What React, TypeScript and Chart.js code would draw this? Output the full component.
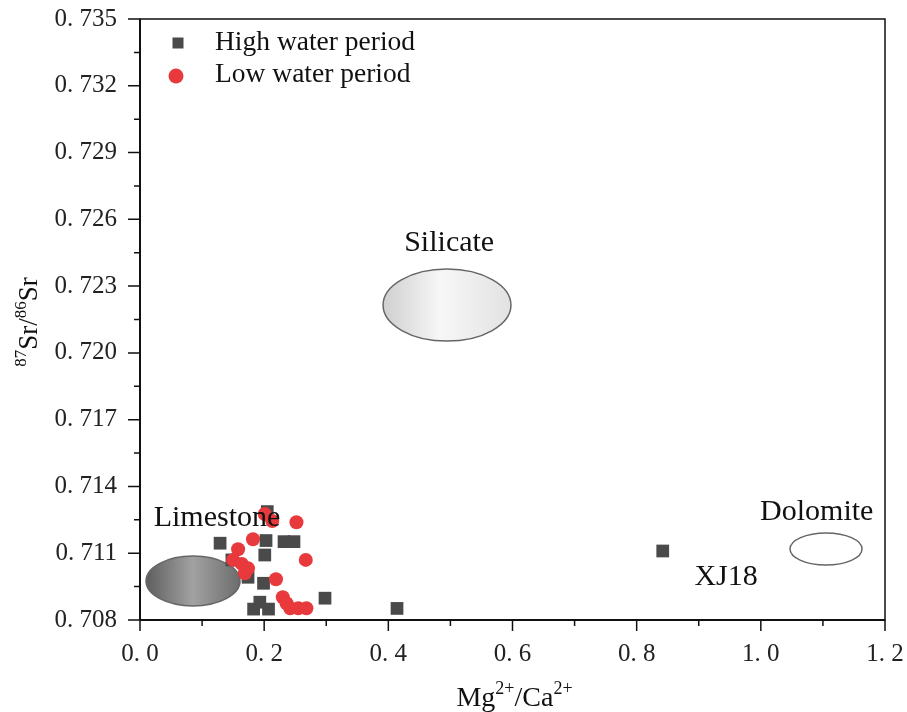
import React, { useEffect, useRef } from "react";
import { Chart, registerables } from "chart.js";
Chart.register(...registerables);

// ---- data ----
const highLabel = "High water period";
const lowLabel = "Low water period";
const highX = [0.129, 0.205, 0.203, 0.232, 0.248, 0.201, 0.148, 0.174, 0.199, 0.183, 0.193, 0.207, 0.298, 0.414, 0.842];
const highY = [0.71145, 0.71287, 0.71157, 0.71152, 0.71152, 0.71092, 0.7107, 0.70992, 0.70965, 0.70849, 0.7088, 0.70849, 0.70898, 0.70852, 0.7111];
const lowX = [0.201, 0.213, 0.252, 0.182, 0.158, 0.15, 0.164, 0.174, 0.169, 0.267, 0.219, 0.23, 0.236, 0.242, 0.255, 0.268];
const lowY = [0.71276, 0.71245, 0.71239, 0.71163, 0.71118, 0.7107, 0.71052, 0.71032, 0.7101, 0.7107, 0.70983, 0.70902, 0.70875, 0.70853, 0.70853, 0.70853];

const regionNames = ["Limestone", "Silicate", "Dolomite"];
const regionCX = [0.0854, 0.4945, 1.105];
const regionCY = [0.70975, 0.72215, 0.71119];
const regionRX = [0.0757, 0.103, 0.058];
const regionRY = [0.00112, 0.00162, 0.00072];

const noteTexts = ["Limestone", "Silicate", "Dolomite", "XJ18"];
const noteX = [0.124, 0.498, 1.09, 0.944];
const noteY = [0.71258, 0.72494, 0.71285, 0.70993];

const xMin = 0, xMax = 1.2, xStep = 0.2;
const yMin = 0.708, yMax = 0.735, yStep = 0.003;

const SERIF = "'Liberation Serif', 'Times New Roman', serif";
const HIGH_COLOR = "#4a4a4a";
const LOW_COLOR = "#e8393d";

function drawSupText(ctx: CanvasRenderingContext2D, parts: [string, boolean][], cx: number, baseY: number, size: number, supSize: number) {
  let total = 0;
  for (const [t, sup] of parts) {
    ctx.font = `${sup ? supSize : size}px ${SERIF}`;
    total += ctx.measureText(t).width;
  }
  let x = cx - total / 2;
  ctx.textAlign = "left";
  ctx.textBaseline = "alphabetic";
  for (const [t, sup] of parts) {
    ctx.font = `${sup ? supSize : size}px ${SERIF}`;
    ctx.fillText(t, x, sup ? baseY - size * 0.42 : baseY);
    x += ctx.measureText(t).width;
  }
}

const regionPlugin = {
  id: "regions",
  beforeDatasetsDraw(chart: any) {
    const { ctx, scales } = chart;
    const x = scales.x, y = scales.y;
    regionNames.forEach((_n, i) => {
      const cx = x.getPixelForValue(regionCX[i]);
      const cy = y.getPixelForValue(regionCY[i]);
      const rx = Math.abs(x.getPixelForValue(regionCX[i] + regionRX[i]) - cx);
      const ry = Math.abs(y.getPixelForValue(regionCY[i] + regionRY[i]) - cy);
      ctx.save();
      let fill: any = "#ffffff";
      if (i === 0) {
        const g = ctx.createLinearGradient(cx - rx, 0, cx + rx, 0);
        g.addColorStop(0, "#5e5e5e");
        g.addColorStop(0.5, "#a2a2a2");
        g.addColorStop(1, "#6c6c6c");
        fill = g;
      } else if (i === 1) {
        const g = ctx.createLinearGradient(cx - rx, 0, cx + rx, 0);
        g.addColorStop(0, "#cfcfcf");
        g.addColorStop(0.45, "#f7f7f7");
        g.addColorStop(1, "#e2e2e2");
        fill = g;
      }
      ctx.beginPath();
      ctx.ellipse(cx, cy, rx, ry, 0, 0, Math.PI * 2);
      ctx.fillStyle = fill;
      ctx.fill();
      ctx.lineWidth = 1.5;
      ctx.strokeStyle = "#666666";
      ctx.stroke();
      ctx.restore();
    });
  },
  afterDatasetsDraw(chart: any) {
    const { ctx, scales, chartArea } = chart;
    const x = scales.x, y = scales.y;
    ctx.save();
    // notes
    ctx.fillStyle = "#111";
    ctx.font = `30px ${SERIF}`;
    ctx.textAlign = "center";
    ctx.textBaseline = "middle";
    noteTexts.forEach((t, i) => {
      ctx.fillText(t, x.getPixelForValue(noteX[i]), y.getPixelForValue(noteY[i]));
    });
    // frame
    ctx.strokeStyle = "#111";
    ctx.lineWidth = 1.5;
    ctx.strokeRect(chartArea.left, chartArea.top, chartArea.right - chartArea.left, chartArea.bottom - chartArea.top);
    ctx.lineWidth = 2;
    ctx.beginPath();
    ctx.moveTo(chartArea.left, chartArea.top);
    ctx.lineTo(chartArea.left, chartArea.bottom);
    ctx.lineTo(chartArea.right, chartArea.bottom);
    ctx.stroke();
    // ticks
    ctx.lineWidth = 1.5;
    ctx.beginPath();
    const nx = Math.round((xMax - xMin) / (xStep / 2));
    for (let k = 0; k <= nx; k++) {
      const v = xMin + (k * xStep) / 2;
      const px = x.getPixelForValue(v);
      const len = k % 2 === 0 ? 11 : 6;
      ctx.moveTo(px, chartArea.bottom);
      ctx.lineTo(px, chartArea.bottom + len);
    }
    const ny = Math.round((yMax - yMin) / (yStep / 2));
    for (let k = 0; k <= ny; k++) {
      const v = yMin + (k * yStep) / 2;
      const py = y.getPixelForValue(v);
      const len = k % 2 === 0 ? 12 : 6;
      ctx.moveTo(chartArea.left, py);
      ctx.lineTo(chartArea.left - len, py);
    }
    ctx.stroke();
    // legend
    const lx = 178;
    const rows: [string, string, string][] = [
      [highLabel, "rect", HIGH_COLOR],
      [lowLabel, "circle", LOW_COLOR],
    ];
    rows.forEach(([label, shape, color], i) => {
      const ly = 43 + i * 32;
      ctx.fillStyle = color;
      if (shape === "rect") {
        ctx.fillRect(lx - 5.5, ly - 5.5, 11, 11);
      } else {
        ctx.beginPath();
        ctx.arc(lx - 2, ly + 1, 7.5, 0, Math.PI * 2);
        ctx.fill();
      }
      ctx.fillStyle = "#111";
      ctx.font = `27.5px ${SERIF}`;
      ctx.textAlign = "left";
      ctx.textBaseline = "middle";
      ctx.fillText(label, 215, ly);
    });
    // axis titles
    ctx.fillStyle = "#111";
    drawSupText(ctx, [["Mg", false], ["2+", true], ["/Ca", false], ["2+", true]], (chartArea.left + chartArea.right) / 2 + 2, 706, 28, 18);
    ctx.save();
    ctx.translate(37, 322);
    ctx.rotate(-Math.PI / 2);
    drawSupText(ctx, [["87", true], ["Sr/", false], ["86", true], ["Sr", false]], 0, 0, 27, 17);
    ctx.restore();
    ctx.restore();
  },
};

function zeroPad(s: any) {
  s.paddingTop = 0;
  s.paddingBottom = 0;
  s.paddingLeft = 0;
  s.paddingRight = 0;
}

export default function App() {
  const ref = useRef<HTMLCanvasElement | null>(null);
  useEffect(() => {
    if (!ref.current) return;
    const chart = new Chart(ref.current, {
      type: "scatter",
      data: {
        datasets: [
          {
            label: lowLabel,
            data: lowX.map((v, i) => ({ x: v, y: lowY[i] })),
            pointStyle: "circle",
            pointRadius: 7,
            backgroundColor: LOW_COLOR,
            borderColor: LOW_COLOR,
            borderWidth: 0,
          },
          {
            label: highLabel,
            data: highX.map((v, i) => ({ x: v, y: highY[i] })),
            pointStyle: "rect",
            pointRadius: 9,
            backgroundColor: HIGH_COLOR,
            borderColor: HIGH_COLOR,
            borderWidth: 0,
          },
        ],
      },
      options: {
        responsive: false,
        animation: false,
        layout: { padding: { top: 19, right: 22, left: 0, bottom: 0 } },
        plugins: { legend: { display: false }, tooltip: { enabled: false } },
        scales: {
          x: {
            type: "linear",
            min: xMin,
            max: xMax,
            afterFit: (s: any) => { s.height = 92; zeroPad(s); },
            grid: { display: false, drawTicks: false },
            border: { display: false },
            ticks: {
              stepSize: xStep,
              padding: 19,
              color: "#222",
              font: { family: SERIF, size: 25 },
              maxRotation: 0,
              autoSkip: false,
              callback: (v: any) => Number(v).toFixed(1).replace(".", ". "),
            },
          },
          y: {
            type: "linear",
            min: yMin,
            max: yMax,
            afterFit: (s: any) => { s.width = 140; zeroPad(s); },
            grid: { display: false, drawTicks: false },
            border: { display: false },
            ticks: {
              stepSize: yStep,
              padding: 23,
              color: "#222",
              font: { family: SERIF, size: 25 },
              autoSkip: false,
              callback: (v: any) => Number(v).toFixed(3).replace(".", ". "),
            },
          },
        },
      },
      plugins: [regionPlugin],
    } as any);
    return () => chart.destroy();
  }, []);
  return (
    <div style={{ position: "fixed", left: 0, top: 0, width: 907, height: 712, background: "#fff" }}>
      <canvas ref={ref} width={907} height={712} style={{ display: "block" }} />
    </div>
  );
}
